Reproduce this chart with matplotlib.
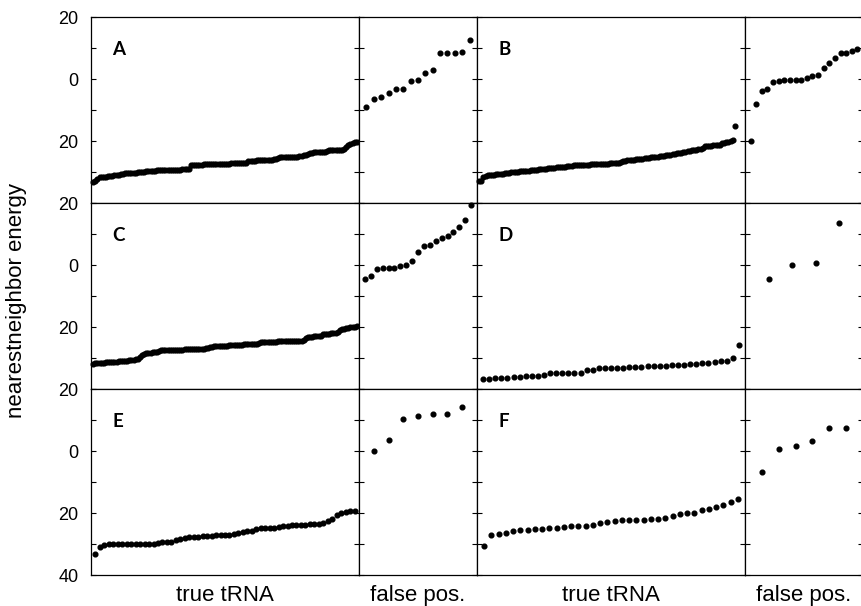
import matplotlib
matplotlib.use("Agg")
import matplotlib.pyplot as plt
from matplotlib.ticker import FixedLocator, FixedFormatter, MultipleLocator

# values, sorted as in the picture
a_true = [-33.2, -33.0, -32.2,
          -31.7, -31.6, -31.5, -31.5, -31.3, -31.2, -31.2, -31.1, -31.0, -31.0, -30.8,
          -30.5, -30.4, -30.4, -30.3, -30.3, -30.2, -30.2, -30.1, -30.0,
          -29.9, -29.9, -29.8, -29.8, -29.7, -29.6, -29.6, -29.5, -29.5, -29.4, -29.3,
          -29.4, -29.4, -29.3, -29.3, -29.3, -29.2, -29.2, -29.2, -29.1, -29.1, -29.0, -29.0,
          -27.8, -27.7, -27.7, -27.6, -27.6, -27.6, -27.5, -27.5, -27.5, -27.5, -27.4, -27.4,
          -27.4, -27.4, -27.3, -27.3, -27.3, -27.3, -27.3, -27.2, -27.2, -27.2, -27.2, -27.1,
          -27.1, -27.1, -27.0,
          -26.4, -26.3, -26.3, -26.3, -26.2, -26.2, -26.2, -26.1, -26.1, -26.1, -26.0, -26.0,
          -25.9, -25.8,
          -25.4, -25.3, -25.2, -25.2, -25.1, -25.1, -25.1, -25.0, -25.0, -25.0, -24.9,
          -24.7, -24.6, -24.5, -24.3, -24.0,
          -23.8, -23.7, -23.6, -23.6, -23.5, -23.5, -23.4, -23.3,
          -22.9, -22.9, -22.8, -22.8, -22.8, -22.8, -22.8, -22.7,
          -22.0, -21.3, -20.9, -20.5, -20.4, -20.3]
a_false = [-9.1, -6.5, -5.8, -4.5, -3.2, -3.2, -0.7, -0.3, 2.0, 2.8, 8.5, 8.5, 8.5, 8.6, 12.5]

b_true = [-33.0, -32.8, -31.6,
          -31.2, -31.1, -31.0, -31.0, -30.9, -30.8, -30.7, -30.6, -30.5,
          -30.3, -30.2, -30.2, -30.1, -30.0, -30.0, -29.9, -29.8, -29.8,
          -29.7, -29.6, -29.6, -29.5, -29.4, -29.3, -29.2, -29.1,
          -29.0, -28.9, -28.9, -28.8, -28.8, -28.7, -28.6, -28.5, -28.5,
          -28.4, -28.3, -28.3, -28.2, -28.1, -28.0, -27.9,
          -27.8, -27.8, -27.7, -27.7, -27.6, -27.6, -27.6, -27.5, -27.5,
          -27.4, -27.4, -27.4, -27.3, -27.3, -27.3, -27.3, -27.2, -27.2, -27.2, -27.1, -27.1,
          -26.8, -26.6, -26.4,
          -26.2, -26.1, -26.0, -26.0, -25.9, -25.8, -25.8, -25.7, -25.6, -25.5, -25.4,
          -25.3, -25.2, -25.1, -25.0, -24.9, -24.8, -24.7, -24.6, -24.5, -24.4, -24.3,
          -24.1, -24.0, -23.9, -23.8, -23.6, -23.5, -23.3, -23.2,
          -23.0, -22.9, -22.8, -22.7, -22.6, -22.4,
          -21.6, -21.5, -21.5, -21.5, -21.4, -21.4, -21.3, -21.2,
          -20.8, -20.6, -20.4, -20.2, -20.0, -19.6,
          -15.3]
b_false = [-20.0, -8.1, -3.9, -3.1, -1.0, -0.5, -0.4, -0.4, -0.4, -0.3,
           0.4, 1.1, 1.3, 3.4, 5.1, 6.8, 8.5, 8.5, 9.1, 9.8]

c_true = [-31.8, -31.7, -31.7, -31.6,
          -31.5, -31.5, -31.4, -31.4, -31.3, -31.3, -31.2, -31.2, -31.1, -31.1, -31.0, -31.0,
          -30.9, -30.8,
          -30.6, -30.5, -30.4, -30.2,
          -29.6, -29.0, -28.6,
          -28.4, -28.3, -28.3, -28.2, -28.2, -28.1,
          -27.6, -27.5, -27.5, -27.5, -27.4, -27.4, -27.4, -27.4, -27.3, -27.3, -27.3, -27.3,
          -27.2, -27.2, -27.2, -27.2, -27.1, -27.1, -27.1, -27.0, -27.0, -27.0, -26.9, -26.9,
          -26.5, -26.3, -26.2, -26.2, -26.1, -26.1, -26.0, -26.0, -26.0, -25.9, -25.9, -25.8,
          -25.8, -25.8, -25.7, -25.7, -25.6, -25.6, -25.6, -25.5, -25.5, -25.4, -25.4,
          -25.0, -24.9, -24.9, -24.8, -24.8, -24.8, -24.7, -24.7, -24.7, -24.6, -24.6, -24.6,
          -24.6, -24.5, -24.5, -24.5, -24.5, -24.4, -24.4, -24.4, -24.4, -24.3,
          -23.4, -23.3, -23.2, -23.1, -23.0, -23.0, -22.9, -22.8,
          -22.4, -22.3, -22.2, -22.1, -22.0, -22.0, -21.9, -21.7,
          -21.0, -20.7, -20.5,
          -20.3, -20.2, -20.1, -20.0, -19.9, -19.8]
c_false = [-4.4, -3.5, -1.2, -1.0, -1.0, -0.9, -0.2, 0.1, 1.4, 4.1,
           6.2, 6.5, 7.8, 8.6, 9.4, 10.5, 12.3, 14.6, 19.5]

d_true = [-36.9, -36.9, -36.5, -36.5, -36.3, -36.1, -36.0, -35.9, -35.8, -35.7,
          -35.4, -34.9, -34.8, -34.8, -34.8, -34.7, -34.7, -34.0, -33.8, -33.3,
          -33.1, -33.1, -33.1, -33.1, -33.0, -32.9, -32.8, -32.7, -32.7, -32.5,
          -32.5, -32.3, -32.2, -32.2, -32.0, -31.9, -31.7, -31.5, -31.2, -31.0,
          -31.0, -29.9, -25.9]
d_false = [-4.5, 0.0, 0.5, 13.5]

e_true = [-33.2, -30.9, -30.3, -30.1, -30.0, -30.0, -30.0, -30.0, -30.0, -30.0,
          -30.0, -29.9, -29.9, -29.9, -29.6, -29.5, -29.4, -29.2, -28.7, -28.5,
          -28.0, -27.8, -27.7, -27.6, -27.5, -27.4, -27.3, -27.2, -27.1, -27.0,
          -27.0, -26.8, -26.5, -26.0, -25.8, -25.7, -25.0, -24.9, -24.9, -24.8,
          -24.8, -24.4, -24.2, -24.1, -24.0, -24.0, -23.9, -23.8, -23.6, -23.5,
          -23.4, -23.2, -22.7, -21.9, -20.6, -19.9, -19.6, -19.5, -19.4]
e_false = [-0.1, 3.6, 10.3, 11.4, 11.8, 12.0, 14.1]

f_true = [-30.5, -27.2, -26.7, -26.3, -25.8, -25.5, -25.4, -25.3, -25.2, -24.9,
          -24.7, -24.4, -24.3, -24.2, -24.1, -24.0, -23.3, -22.9, -22.6, -22.4,
          -22.4, -22.3, -22.2, -22.0, -21.9, -21.5, -20.9, -20.4, -20.1, -19.9,
          -19.0, -18.7, -18.0, -17.5, -16.5, -15.4]
f_false = [-6.8, 0.5, 1.6, 3.3, 7.3, 7.5]

panel_names = ["A", "B", "C", "D", "E", "F"]
true_sets = [a_true, b_true, c_true, d_true, e_true, f_true]
false_sets = [a_false, b_false, c_false, d_false, e_false, f_false]
# extra room right of the last true point (B leaves a wider gap)
true_pad = [1, 4.7, 1, 1, 1, 1]

y_major = [20, 0, -20]
y_major_labels = ["20", "0", "20"]

FONT = ["Liberation Sans", "DejaVu Sans"]
plt.rcParams["font.family"] = FONT


def style_axis(ax, show_labels, bottom_row):
    ax.set_ylim(-40, 20)
    ax.set_xticks([])
    ax.yaxis.set_minor_locator(MultipleLocator(10))
    if show_labels:
        ticks = y_major + ([-40] if bottom_row else [])
        labels = y_major_labels + (["40"] if bottom_row else [])
        ax.yaxis.set_major_locator(FixedLocator(ticks))
        ax.yaxis.set_major_formatter(FixedFormatter(labels))
    else:
        ax.yaxis.set_major_locator(FixedLocator(y_major))
        ax.set_yticklabels([])
    ax.tick_params(axis="y", which="both", direction="in", left=True, right=True,
                   length=3.8, width=0.8, labelsize=13, pad=9)
    for sp in ax.spines.values():
        sp.set_linewidth(0.9)


def main():
    fig = plt.figure(figsize=(8.62, 6.06), dpi=100)
    gs = fig.add_gridspec(3, 4, width_ratios=[268, 118, 268, 118],
                          left=91 / 862, right=863 / 862,
                          top=1 - 17 / 606, bottom=1 - 575 / 606,
                          wspace=0, hspace=0)

    for k, name in enumerate(panel_names):
        row, half = divmod(k, 2)
        col = half * 2
        ax_t = fig.add_subplot(gs[row, col])
        ax_f = fig.add_subplot(gs[row, col + 1])

        tv = true_sets[k]
        fv = false_sets[k]
        ax_t.plot(range(1, len(tv) + 1), tv, "o", color="black", ms=3.4,
                  mec="black", clip_on=False)
        ax_t.set_xlim(0, len(tv) + true_pad[k])
        ax_f.plot(range(1, len(fv) + 1), fv, "o", color="black", ms=3.4,
                  mec="black", clip_on=False)
        ax_f.set_xlim(0, len(fv) + 1)

        style_axis(ax_t, col == 0, row == 2)
        style_axis(ax_f, False, row == 2)

        ax_t.text(0.08, 9.4, name, transform=ax_t.get_yaxis_transform(),
                  ha="left", va="center", fontsize=13.5, fontweight="bold",
                  family=["Lato", "DejaVu Sans"])

        if row == 2:
            ax_t.set_xlabel("true tRNA", fontsize=16, labelpad=7)
            ax_f.set_xlabel("false pos.", fontsize=16, labelpad=7)

    fig.text(17 / 862, 1 - 300 / 606, "nearestneighbor energy", rotation=90,
             ha="center", va="center", fontsize=16)

    fig.savefig("out.png", dpi=100)
    plt.close(fig)


if __name__ == "__main__":
    main()
